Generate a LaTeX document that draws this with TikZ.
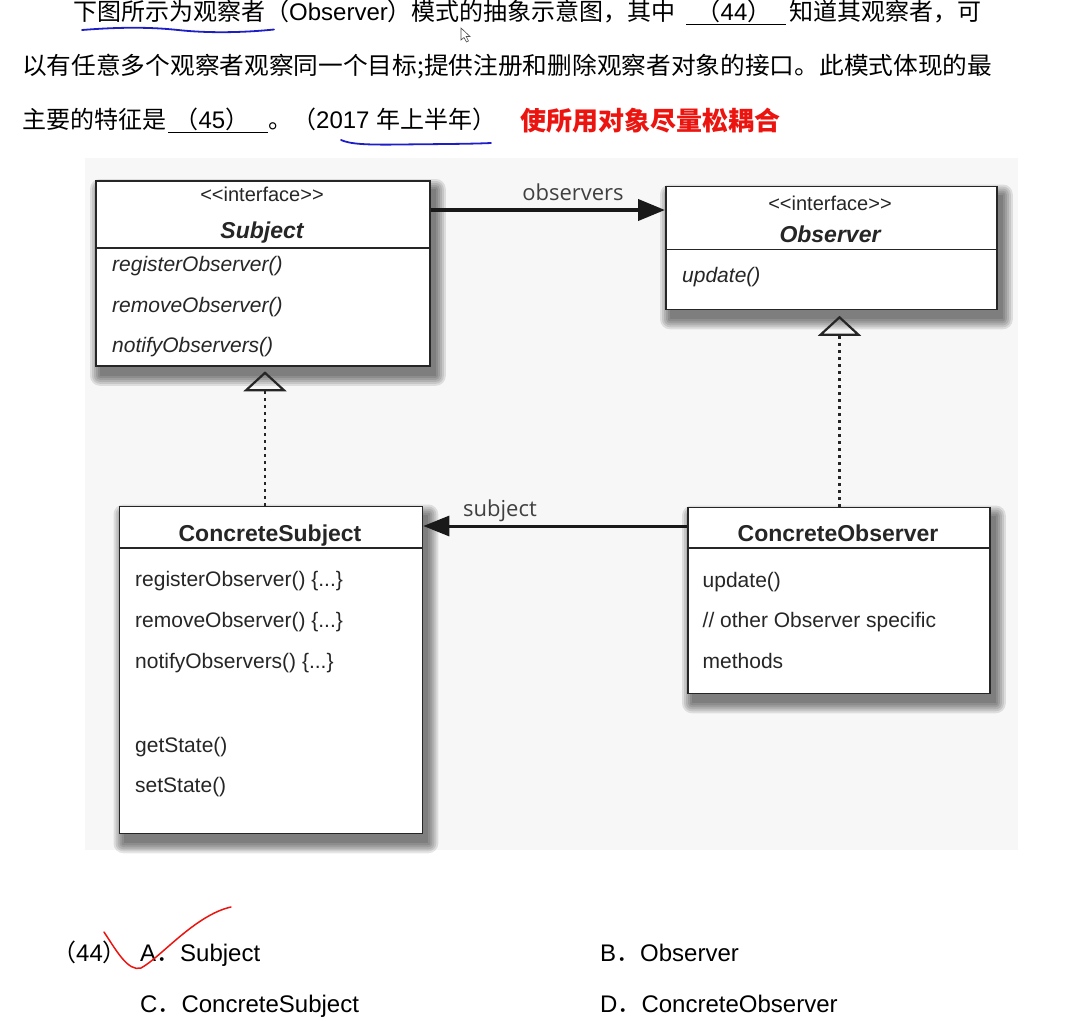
\documentclass[tikz,border=0pt]{standalone}
\usepackage{fontspec}
\setmainfont{Liberation Sans}
\newfontfamily\cjk{Noto Sans CJK SC}
\newfontfamily\lblfont{Open Sans}
\usetikzlibrary{arrows.meta}
\definecolor{inkblue}{RGB}{30,30,200}
\definecolor{inkred}{RGB}{235,20,15}
\newcommand{\stereotype}[1]{{<}{<}#1{>}{>}}
\pgfdeclarelayer{bg}
\pgfsetlayers{bg,main}
\newcommand{\softshadow}[1]{%
  \foreach \r in {0,2,4,6,8,10}{%
    \fill[black,opacity=0.1,rounded corners=\r pt]
      ([xshift=5pt-\r pt,yshift=-9pt-\r pt]#1.south west) rectangle
      ([xshift=5pt+\r pt,yshift=-9pt+\r pt]#1.north east);}}
\begin{document}
\begin{tikzpicture}[x=1pt,y=-1pt,
  txt/.style={anchor=base west,inner sep=0pt,font=\fontsize{24}{28}\selectfont},
  txtc/.style={anchor=base,inner sep=0pt,font=\fontsize{24}{28}\selectfont},
  umlbox/.style={draw=black!85,line width=1.8pt,fill=white,inner sep=0pt,anchor=north west},
  divider/.style={draw=black!85,line width=1.8pt},
  meth/.style={anchor=base west,inner sep=0pt,text=black!85,font=\fontsize{21}{24}\selectfont},
  imeth/.style={meth,font=\itshape\fontsize{21}{24}\selectfont},
  title/.style={anchor=base,inner sep=0pt,text=black!85,font=\bfseries\fontsize{23}{26}\selectfont},
  ititle/.style={title,font=\bfseries\itshape\fontsize{23}{26}\selectfont},
  stereo/.style={anchor=base,inner sep=0pt,text=black!85,font=\fontsize{20}{22}\selectfont},
  lbl/.style={anchor=base,inner sep=0pt,text=black!75,font=\lblfont\fontsize{22}{24}\selectfont},
  assoc/.style={draw=black!90,line width=4pt,-{Triangle[length=27pt,width=21pt]}},
  assocb/.style={draw=black!90,line width=3pt,-{Triangle[length=26pt,width=20pt]}},
  realize/.style={draw=black!85,line width=2.3pt,dash pattern=on 2.3pt off 4.7pt,
     -{Triangle[open,length=20pt,width=43pt,line width=2.2pt]}},
  blank/.style={draw=black,line width=1.6pt}
]
\useasboundingbox (0,0) rectangle (1070,1020);

% ---------- question text ----------
\node[txt] (l1a) at (73,20) {\cjk 下图所示为观察者（\normalfont Observer\cjk ）模式的抽象示意图，其中};
\node[txtc] (b44) at (734,20) {\cjk （\normalfont 44\cjk ）};
\draw[blank] (686,24.5) -- (786,24.5);
\node[txt] (l1b) at (789,20) {\cjk 知道其观察者，可};
\node[txt] (l2) at (22,74) {\scalebox{1.029}[1]{\cjk 以有任意多个观察者观察同一个目标;提供注册和删除观察者对象的接口。此模式体现的最}};
\node[txt] (l3a) at (22,128.5) {\cjk 主要的特征是};
\node[txtc] (b45) at (212,128.5) {\cjk （\normalfont 45\cjk ）};
\draw[blank] (168,132.5) -- (268,132.5);
\node[txt] (l3b) at (268,128.5) {\cjk 。（\normalfont 2017 \cjk 年上半年）};
\node[txt,text=inkred,font=\fontsize{26}{30}\selectfont] (ans) at (520,130) {\cjk\bfseries 使所用对象尽量松耦合};

% hand-drawn marks
\draw[inkblue,line width=1.8pt,line cap=round] (82,30) .. controls (120,27) and (150,27) .. (178,30)
   .. controls (205,33) and (240,33) .. (274,29.5);
\draw[inkblue,line width=1.8pt,line cap=round] (341,140) .. controls (350,144) and (365,145) .. (400,144.5)
   .. controls (440,144) and (470,144) .. (491,143);
\draw[black!70,line width=0.6pt,fill=white] (461,28) -- (461,40) -- (464,37.5) -- (466.5,42) -- (468.5,41) -- (466.2,36.5) -- (470,36.5) -- cycle;

% ---------- classes ----------
\node[umlbox,minimum width=334pt,minimum height=185pt] (subj) at (95,180) {};
\draw[divider] (95,248) -- (429,248);
\node[stereo] (subjst) at (262,201.5) {\stereotype{interface}};
\node[ititle] (subjnm) at (262,238) {Subject};
\node[imeth] (sm1) at (112,271) {registerObserver()};
\node[imeth] (sm2) at (112,312) {removeObserver()};
\node[imeth] (sm3) at (112,352) {notifyObservers()};

\node[umlbox,minimum width=331pt,minimum height=123pt] (obs) at (665,185.5) {};
\draw[divider] (665,249.5) -- (996,249.5);
\node[stereo] (obsst) at (830,210) {\stereotype{interface}};
\node[ititle] (obsnm) at (830,242) {Observer};
\node[imeth] (om1) at (682,282) {update()};

\node[umlbox,minimum width=303pt,minimum height=327pt] (cs) at (118.5,505.5) {};
\draw[divider] (118.5,548) -- (421.5,548);
\node[title] (csnm) at (270,541) {ConcreteSubject};
\node[meth] (cm1) at (135,586) {registerObserver() \{...\}};
\node[meth] (cm2) at (135,627) {removeObserver() \{...\}};
\node[meth] (cm3) at (135,668) {notifyObservers() \{...\}};
\node[meth] (cm4) at (135,752) {getState()};
\node[meth] (cm5) at (135,792) {setState()};

\node[umlbox,minimum width=302pt,minimum height=186pt] (cobs) at (687,506.5) {};
\draw[divider] (687,548) -- (989,548);
\node[title] (cobsnm) at (838,541) {ConcreteObserver};
\node[meth] (com1) at (702.5,587) {update()};
\node[meth] (com2) at (702.5,627) {// other Observer specific};
\node[meth] (com3) at (702.5,668) {methods};

% ---------- background layer: diagram area and shadows ----------
\begin{pgfonlayer}{bg}
  \fill[black!3] (85,158) rectangle (1018,850);
  \softshadow{subj}
  \softshadow{obs}
  \softshadow{cs}
  \softshadow{cobs}
\end{pgfonlayer}

% ---------- connectors ----------
\coordinate (ya) at (0,210);
\coordinate (yb) at (0,526);
\coordinate (t1) at (265,0);
\coordinate (t2) at (839.5,0);
\draw[assoc] (subj.east |- ya) -- (obs.west |- ya);
\node[lbl] (lobs) at (573,200) {observers};
\draw[assocb] (cobs.west |- yb) -- (cs.east |- yb);
\node[lbl] (lsub) at (500,516) {subject};
\draw[realize,shorten >=4.5pt] (cs.north -| t1) -- (subj.south -| t1);
\draw[realize,shorten >=5.5pt] (cobs.north -| t2) -- (obs.south -| t2);

% ---------- options ----------
\node[txt] (q44) at (52,961.5) {\cjk （\normalfont 44\cjk ）};
\node[txt] (optA) at (140,961.5) {A\cjk ．\normalfont Subject};
\node[txt] (optB) at (600,961.5) {B\cjk ．\normalfont Observer};
\node[txt] (optC) at (140,1012) {C\cjk ．\normalfont ConcreteSubject};
\node[txt] (optD) at (600,1012) {D\cjk ．\normalfont ConcreteObserver};
\draw[inkred,line width=1.5pt,line cap=round] (104,932) .. controls (116,950) and (128,972) .. (141,968)
   .. controls (160,958) and (195,915) .. (231,907);
\end{tikzpicture}
\end{document}
